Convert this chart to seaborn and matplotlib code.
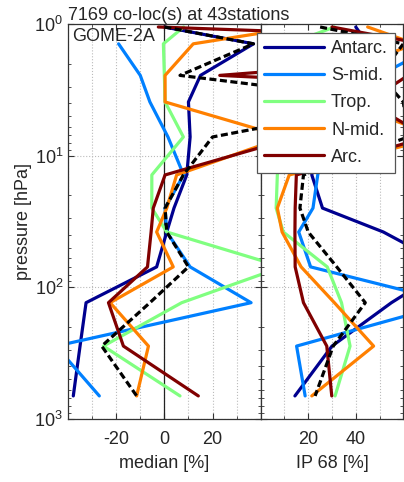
import numpy as np
import pandas as pd
import matplotlib.pyplot as plt
import seaborn as sns
from matplotlib.ticker import FixedLocator

pressure = [1.05, 1.41, 2.45, 3.9, 7.2, 14, 25, 38, 70, 131, 280, 670]
regions = ['Antarc.', 'S-mid.', 'Trop.', 'N-mid.', 'Arc.']
colors = ['#00008f', '#0080ff', '#80ff80', '#ff8000', '#800000']

# median difference [%] per region, top level first
median_antarc = [0, 37, 15, 10, 10.7, 9.3, 4, 1, -3.2, -32.5, -35, -37.8]
median_smid = [np.nan, -19, -10, -6, 1.5, 8, 0.3, 1, 10.7, 36, -45, -27]
median_trop = [8, -0.4, 0, 0.3, 7.9, -5.2, -5.2, 1, 49, 7.2, -25.3, 6.5]
median_nmid = [56, 12, 0.3, 0.3, 50, 5.1, 1, -3.2, 3.7, -22.5, -6.6, -11.5]
median_arc = [-2.5, 190, 23, 250, 55, 0.3, -4.6, -5.5, -7, -23.2, -17, 14.1]
median_all = [0, 37, 6.5, 96, 20, 7.9, 0.3, 1, 10, -6, -26, -11.5]

# 68% interpercentile [%]
ip68_antarc = [40, 45, 38, 30, 25, 21.5, 26, 51.6, 79, 55, 30, 14.4]
ip68_smid = [np.nan, 75, 50, 35, 28, 24, 22, 16, 21, 81, 15.1, 18.7]
ip68_trop = [31, 12, 10, 9, 9, 7, 6.5, 9.5, 28, 34, 37.6, 31.3]
ip68_nmid = [45, 65, 30, 35, 75, 12, 7, 9, 17, 31, 47.5, 21.5]
ip68_arc = [30, 68, 62, 45, 70, 15, 14.5, 14.4, 14.5, 18, 27.8, 29.9]
ip68_all = [25, 60, 50, 60, 62, 18, 16.5, 20, 32, 44, 30.5, 22.9]

medians = [median_antarc, median_smid, median_trop, median_nmid, median_arc]
ip68s = [ip68_antarc, ip68_smid, ip68_trop, ip68_nmid, ip68_arc]

rows = []
for name, med, ip in zip(regions, medians, ip68s):
    for p, m, i in zip(pressure, med, ip):
        rows.append({'region': name, 'pressure': p, 'median': m, 'ip68': i})
df = pd.DataFrame(rows).dropna()

sns.set_style('ticks')
plt.rcParams['font.family'] = ['Liberation Sans', 'DejaVu Sans']
plt.rcParams['mathtext.fontset'] = 'custom'
plt.rcParams['mathtext.rm'] = 'Liberation Sans'
plt.rcParams['axes.edgecolor'] = '#333333'
plt.rcParams['axes.unicode_minus'] = False

W, H = 404, 482
fig = plt.figure(figsize=(W / 100, H / 100), dpi=100)
bottom = (H - 418.8) / H
height = 394.6 / H
ax1 = fig.add_axes([68 / W, bottom, 192.7 / W, height])
ax2 = fig.add_axes([260.7 / W, bottom, 142.6 / W, height], sharey=ax1)

lw = 2.3
ax1.axvline(0, color='#222222', lw=0.9, zorder=1)
sns.lineplot(data=df, x='median', y='pressure', hue='region', hue_order=regions,
             palette=colors, orient='y', estimator=None, lw=lw, ax=ax1, legend=False)
sns.lineplot(x=median_all, y=pressure, color='black', orient='y', estimator=None,
             lw=lw, linestyle=(0, (2.2, 1.1)), ax=ax1)

sns.lineplot(data=df, x='ip68', y='pressure', hue='region', hue_order=regions,
             palette=colors, orient='y', estimator=None, lw=lw, ax=ax2)
sns.lineplot(x=ip68_all, y=pressure, color='black', orient='y', estimator=None,
             lw=lw, linestyle=(0, (2.2, 1.1)), ax=ax2)

ax1.set_yscale('log')
ax1.set_ylim(1000, 1)
ax1.set_xlim(-40, 40)
ax2.set_xlim(0, 60)

ax1.xaxis.set_major_locator(FixedLocator([-20, 0, 20]))
ax1.xaxis.set_minor_locator(FixedLocator([-40, -30, -10, 10, 30, 40]))
ax2.xaxis.set_major_locator(FixedLocator([20, 40]))
ax2.xaxis.set_minor_locator(FixedLocator([0, 10, 30, 50, 60]))

for ax in (ax1, ax2):
    ax.tick_params(which='both', direction='in', top=True, right=True,
                   color='#333333', labelsize=13)
    ax.tick_params(which='major', length=4, width=0.8)
    ax.tick_params(which='minor', length=2.5, width=0.6)
    ax.tick_params(axis='x', pad=9)
    ax.grid(True, which='major', axis='y', ls=':', color='#bbbbbb', lw=0.8)
    ax.grid(True, which='both', axis='x', ls=':', color='#bbbbbb', lw=0.8)
    for s in ax.spines.values():
        s.set_linewidth(0.9)
ax2.tick_params(axis='y', which='both', labelleft=False)

ax1.set_xlabel('median [%]', fontsize=13, labelpad=5)
ax2.set_xlabel('IP 68 [%]', fontsize=13, labelpad=5)
ax2.set_ylabel('')
ax1.set_ylabel('pressure [hPa]', fontsize=13, labelpad=2)
ax1.set_title('7169 co-loc(s) at 43stations', loc='left', fontsize=13, pad=2)
ax1.text(0.02, 0.99, 'GOME-2A', transform=ax1.transAxes, va='top', ha='left',
         fontsize=13)

handles, labels = ax2.get_legend_handles_labels()
leg = ax2.legend(handles[:5], labels[:5], loc='upper left',
                 bbox_to_anchor=(257 / W, 1 - 33 / H), bbox_transform=fig.transFigure,
                 borderaxespad=0, fontsize=13, handlelength=3.3, labelspacing=0.56,
                 borderpad=0.4, handletextpad=0.4, fancybox=False, framealpha=1,
                 edgecolor='#555555')
leg.get_frame().set_linewidth(0.9)

fig.savefig('out.png', dpi=100)
